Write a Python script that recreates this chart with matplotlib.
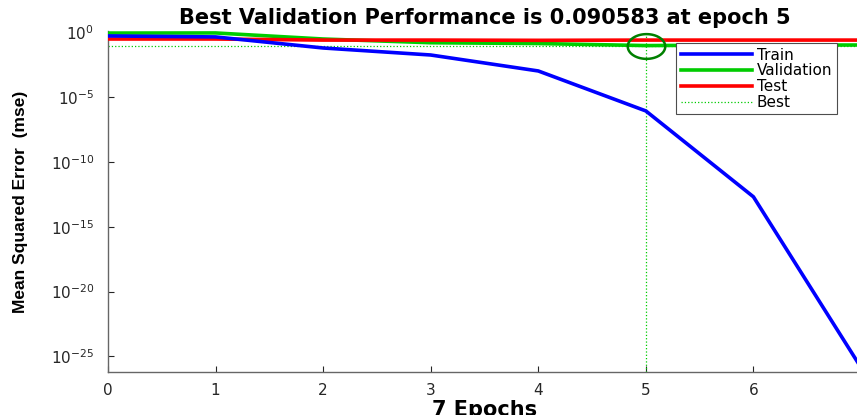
import matplotlib.pyplot as plt
import numpy as np
from matplotlib.path import Path

# Performance per epoch (mse)
epochs = [0, 1, 2, 3, 4, 5, 6, 7]
train_mse = [0.5, 0.42, 0.059, 1.7e-2, 1.0e-3, 8.3e-7, 2.0e-13, 1.4e-26]
val_mse = [0.83, 0.85, 0.29, 0.15, 0.13, 0.090583, 0.1, 0.1]
test_mse = [0.29, 0.29, 0.24, 0.24, 0.23, 0.24, 0.24, 0.24]

best_epoch = 5
best_perf = 0.090583

y_ticks = [1e-25, 1e-20, 1e-15, 1e-10, 1e-5, 1e0]
y_tick_labels = ['$10^{-25}$', '$10^{-20}$', '$10^{-15}$', '$10^{-10}$', '$10^{-5}$', '$10^{0}$']

blue = (0, 0, 1)
green = (0, 0.8, 0)
red = (1, 0, 0)
dark_green = (0, 0.5, 0)
axis_grey = (0.15, 0.15, 0.15)

plt.rcParams['font.family'] = ['DejaVu Sans']
plt.rcParams['mathtext.fontset'] = 'dejavusans'
plt.rcParams['mathtext.default'] = 'rm'

fig = plt.figure(figsize=(8.57, 4.15), dpi=100)
ax = fig.add_axes([108 / 857, 1 - 372 / 415, (861 - 108) / 857, (372 - 31) / 415])

ax.plot(epochs, train_mse, color=blue, lw=2.6, label='Train', zorder=4)
ax.plot(epochs, val_mse, color=green, lw=2.6, label='Validation', zorder=3)
ax.plot(epochs, test_mse, color=red, lw=2.6, label='Test', zorder=3)

ax.set_yscale('log')
ax.set_xlim(0, 7)
ax.set_ylim(10 ** -26.2, 10 ** 0.08)

# best epoch guides
ax.plot([0, 7], [best_perf, best_perf], ':', color=green, lw=0.9, label='Best', zorder=2)
ax.plot([best_epoch, best_epoch], ax.get_ylim(), ':', color=green, lw=0.9, zorder=2)

# flattened circle around the best point
theta = np.linspace(0, 2 * np.pi, 60)
ellipse = Path(np.column_stack([np.cos(theta), 0.66 * np.sin(theta)]))
ax.plot([best_epoch], [best_perf], marker=ellipse, markersize=27, mfc='none',
        mec=dark_green, mew=1.8, zorder=5, clip_on=False)

ax.set_yticks(y_ticks)
ax.set_yticklabels(y_tick_labels)
ax.yaxis.set_minor_locator(plt.NullLocator())
ax.set_xticks(epochs)
ax.tick_params(direction='in', length=4, width=0.8, colors=axis_grey,
               labelsize=11, pad=8)
ax.tick_params(axis='y', pad=10)

for side in ['top', 'right']:
    ax.spines[side].set_visible(False)
for side in ['left', 'bottom']:
    ax.spines[side].set_color((0.4, 0.4, 0.4))
    ax.spines[side].set_linewidth(1.0)

ax.set_title('Best Validation Performance is 0.090583 at epoch 5',
             fontsize=15, fontweight='bold', pad=5)
ax.set_xlabel('7 Epochs', fontsize=15, fontweight='bold', labelpad=1)
ax.set_ylabel('Mean Squared Error  (mse)', fontsize=12.5, fontweight='heavy',
              family=['Liberation Sans', 'DejaVu Sans'], labelpad=16)

leg = ax.legend(loc='upper right', bbox_to_anchor=(837 / 857, 1 - 43 / 415),
                bbox_transform=fig.transFigure, fancybox=False, framealpha=1,
                edgecolor=(0.3, 0.3, 0.3), fontsize=11, handlelength=4.7,
                handletextpad=0.3, labelspacing=0.05, borderpad=0.3,
                borderaxespad=0)
leg.get_frame().set_linewidth(0.8)

fig.savefig('out.png', dpi=100)
